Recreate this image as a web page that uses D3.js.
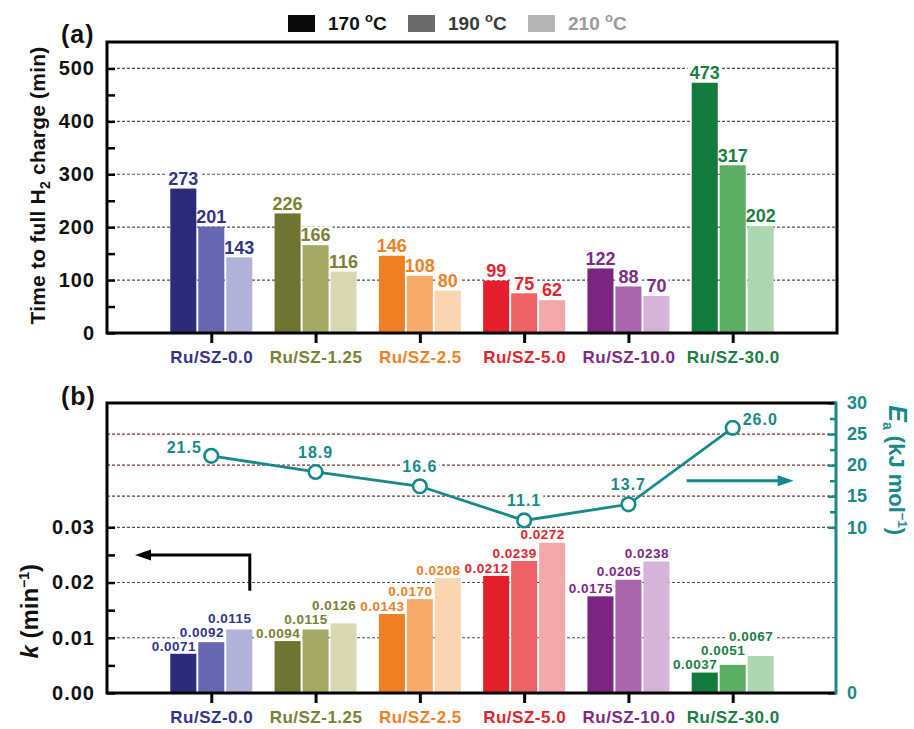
<!DOCTYPE html>
<html>
<head>
<meta charset="utf-8">
<script src="https://cdn.jsdelivr.net/npm/d3@7/dist/d3.min.js"></script>
<style>
  html, body { margin: 0; padding: 0; background: #fff; }
  svg { display: block; font-family: "Liberation Sans", Arial, Helvetica, sans-serif; font-weight: bold; }
</style>
</head>
<body>
<svg id="chart" width="914" height="729"></svg>
<script>
// ---- data ----
const categories = ["Ru/SZ-0.0", "Ru/SZ-1.25", "Ru/SZ-2.5", "Ru/SZ-5.0", "Ru/SZ-10.0", "Ru/SZ-30.0"];
const temperatures = ["170", "190", "210"];

// time to full H2 charge (min)
const chargeTime170 = [273, 226, 146, 99, 122, 473];
const chargeTime190 = [201, 166, 108, 75, 88, 317];
const chargeTime210 = [143, 116, 80, 62, 70, 202];

// rate constant k (min^-1)
const k170 = [0.0071, 0.0094, 0.0143, 0.0212, 0.0175, 0.0037];
const k190 = [0.0092, 0.0115, 0.0170, 0.0239, 0.0205, 0.0051];
const k210 = [0.0115, 0.0126, 0.0208, 0.0272, 0.0238, 0.0067];

// activation energy Ea (kJ mol^-1)
const activationEnergy = [21.5, 18.9, 16.6, 11.1, 13.7, 26.0];

// axis ticks
const timeTicks = [0, 100, 200, 300, 400, 500];
const timeMinorTicks = [50, 150, 250, 350, 450];
const kTicks = [0, 0.01, 0.02, 0.03];
const kMinorTicks = [0.005, 0.015, 0.025];
const eaTicks = [0, 10, 15, 20, 25, 30];
const eaMinorTicks = [12.5, 17.5, 22.5, 27.5];

// ---- styling ----
const shades = [
  ["#2c2a7a", "#6667b0", "#b1b2da"],
  ["#6f7431", "#a5a963", "#d8d9b3"],
  ["#f07e22", "#f7aa69", "#fbd4b0"],
  ["#e41e2a", "#ef6268", "#f5a8ab"],
  ["#7c2481", "#aa66ad", "#d6b3d8"],
  ["#127b3d", "#5cae64", "#add7b0"]
];
const labelColors = ["#34338a", "#7c8034", "#f08024", "#e4232e", "#7f2a85", "#1a8043"];
const legendFill = ["#0a0a0a", "#6a6a6a", "#b5b5b5"];
const legendText = ["#111111", "#3a3a3a", "#9a9a9a"];
const teal = "#168a8a";
const gridGray = "#505050";
const gridMaroon = "#7a3333";

const svg = d3.select("#chart");
svg.append("rect").attr("width", 914).attr("height", 729).attr("fill", "#fff");

const L = 107, R = 837;
const A = { top: 42, bottom: 333 };
const B = { top: 403, bottom: 693, right: 836 };

const x = d3.scalePoint().domain(categories).range([L, R]).padding(1);
const inner = d3.scaleBand().domain([0, 1, 2]).range([-41, 41]).paddingInner(0.07);

const yTime = d3.scaleLinear().domain([0, 550]).range([A.bottom, A.top]);
const yK = d3.scaleLinear().domain([0, 0.0525]).range([B.bottom, B.top]);
const yEa = d3.scaleLinear().domain([0, 10, 30]).range([B.bottom, yK(0.03), B.top]);

const timeSeries = [chargeTime170, chargeTime190, chargeTime210];
const kSeries = [k170, k190, k210];

const gGrid = svg.append("g");
const gBack = svg.append("g");
const gBars = svg.append("g");
const gAxes = svg.append("g");
const gLine = svg.append("g");
const gText = svg.append("g");

function hgrid(y, x1, x2, color) {
  gGrid.append("line").attr("x1", x1).attr("x2", x2).attr("y1", y).attr("y2", y)
    .attr("stroke", color).attr("stroke-width", 1.2).attr("stroke-dasharray", "3,2");
}

// label with a white knock-out box behind it
function label(xp, yp, text, opts) {
  const t = gText.append("text")
    .attr("x", xp).attr("y", yp).attr("dy", "0.35em")
    .attr("text-anchor", opts.anchor || "middle")
    .attr("font-size", opts.size).attr("letter-spacing", opts.spacing || 0)
    .attr("fill", opts.color).text(text);
  const bb = t.node().getBBox();
  gBack.append("rect").attr("x", bb.x - 2).attr("y", bb.y + 1)
    .attr("width", bb.width + 4).attr("height", bb.height - 2).attr("fill", "#fff");
  return t;
}

// ================= panel (a) =================
timeTicks.filter(d => d > 0).forEach(d => hgrid(yTime(d), L, R, gridGray));

const barsA = categories.flatMap((c, i) => timeSeries.map((s, j) => ({ c, i, j, v: s[i] })));
gBars.selectAll("rect.a").data(barsA).join("rect").attr("class", "a")
  .attr("x", d => x(d.c) + inner(d.j))
  .attr("width", inner.bandwidth())
  .attr("y", d => yTime(d.v))
  .attr("height", d => yTime(0) - yTime(d.v))
  .attr("fill", d => shades[d.i][d.j]);

barsA.forEach(d => {
  label(x(d.c) + inner(d.j) + inner.bandwidth() / 2, yTime(d.v) - 10, d3.format("d")(d.v),
    { size: 18, color: labelColors[d.i] });
});

// left axis (a)
const axA = gAxes.append("g").attr("transform", `translate(${L},0)`);
axA.call(d3.axisLeft(yTime).tickValues(timeTicks).tickSize(-8).tickSizeOuter(0).tickPadding(12));
axA.append("g").call(d3.axisLeft(yTime).tickValues(timeMinorTicks).tickSize(-8).tickSizeOuter(0).tickFormat(""));
axA.selectAll("path.domain").remove();
axA.selectAll("line").attr("stroke", "#000").attr("stroke-width", 2.5);
axA.selectAll("text").attr("font-size", 20).attr("letter-spacing", 1).attr("fill", "#111")
  .attr("font-family", null);

// category axis (a)
const bxA = gAxes.append("g").attr("transform", `translate(0,${A.bottom})`);
bxA.call(d3.axisBottom(x).tickSize(10).tickSizeOuter(0).tickPadding(8));
bxA.select("path.domain").remove();
bxA.selectAll("line").attr("stroke", "#000").attr("stroke-width", 3);
bxA.selectAll("text").attr("font-size", 17).attr("letter-spacing", 0.5)
  .attr("fill", (d, i) => labelColors[i]).attr("font-family", null);

gAxes.append("rect").attr("x", L).attr("y", A.top).attr("width", R - L).attr("height", A.bottom - A.top)
  .attr("fill", "none").attr("stroke", "#000").attr("stroke-width", 3);

// axis title (a)
const tA = gAxes.append("text").attr("transform", `translate(45,${(A.top + A.bottom) / 2 - 2}) rotate(-90)`)
  .attr("text-anchor", "middle").attr("font-size", 21).attr("letter-spacing", 0.2).attr("fill", "#111");
tA.append("tspan").text("Time to full H");
tA.append("tspan").attr("font-size", 14).attr("dy", 5).text("2");
tA.append("tspan").attr("dy", -5).text(" charge (min)");

gAxes.append("text").attr("x", 61).attr("y", 43).attr("font-size", 25).attr("letter-spacing", 1)
  .attr("fill", "#111").text("(a)");

// legend
const legend = gAxes.append("g");
temperatures.forEach((t, j) => {
  const lx = 288 + j * 120;
  legend.append("rect").attr("x", lx).attr("y", 15).attr("width", 27).attr("height", 17).attr("fill", legendFill[j]);
  const tx = legend.append("text").attr("x", lx + 40).attr("y", 30).attr("font-size", 19)
    .attr("fill", legendText[j]);
  tx.append("tspan").text(t + " ");
  tx.append("tspan").attr("font-size", 13).attr("dy", -8).text("o");
  tx.append("tspan").attr("dy", 8).text("C");
});

// ================= panel (b) =================
[0.01, 0.02, 0.03].forEach(d => hgrid(yK(d), L, B.right, gridGray));
[15, 20, 25].forEach(d => hgrid(yEa(d), L, B.right, gridMaroon));

const barsB = categories.flatMap((c, i) => kSeries.map((s, j) => ({ c, i, j, v: s[i] })));
gBars.selectAll("rect.b").data(barsB).join("rect").attr("class", "b")
  .attr("x", d => x(d.c) + inner(d.j))
  .attr("width", inner.bandwidth())
  .attr("y", d => yK(d.v))
  .attr("height", d => yK(0) - yK(d.v))
  .attr("fill", d => shades[d.i][d.j]);

// k labels: stacked so neighbouring labels within a group never collide
categories.forEach((c, i) => {
  let prev = Infinity;
  kSeries.forEach((s, j) => {
    const yl = Math.min(yK(s[i]) - 8, prev - 14);
    prev = yl;
    label(x(c) + inner(j) + inner.bandwidth() / 2 - 9.5, yl, d3.format(".4f")(s[i]),
      { size: 13.5, spacing: 0.5, color: labelColors[i] });
  });
});

// left axis (b)
const axB = gAxes.append("g").attr("transform", `translate(${L},0)`);
axB.call(d3.axisLeft(yK).tickValues(kTicks).tickSize(-8).tickSizeOuter(0).tickPadding(12).tickFormat(d3.format(".2f")));
axB.append("g").call(d3.axisLeft(yK).tickValues(kMinorTicks).tickSize(-8).tickSizeOuter(0).tickFormat(""));
axB.selectAll("path.domain").remove();
axB.selectAll("line").attr("stroke", "#000").attr("stroke-width", 2.5);
axB.selectAll("text").attr("font-size", 20).attr("letter-spacing", 1).attr("fill", "#111").attr("font-family", null);

// right axis (b)
const axE = gAxes.append("g").attr("transform", `translate(${B.right},0)`);
axE.call(d3.axisRight(yEa).tickValues(eaTicks).tickSize(-8).tickSizeOuter(0).tickPadding(11));
axE.append("g").call(d3.axisRight(yEa).tickValues(eaMinorTicks).tickSize(-6).tickSizeOuter(0).tickFormat(""));
axE.selectAll("path.domain").remove();
axE.selectAll("line").attr("stroke", teal).attr("stroke-width", 2.5);
axE.selectAll("text").attr("font-size", 18).attr("fill", teal).attr("font-family", null);

// category axis (b)
const bxB = gAxes.append("g").attr("transform", `translate(0,${B.bottom})`);
bxB.call(d3.axisBottom(x).tickSize(10).tickSizeOuter(0).tickPadding(8));
bxB.select("path.domain").remove();
bxB.selectAll("line").attr("stroke", "#000").attr("stroke-width", 3);
bxB.selectAll("text").attr("font-size", 17).attr("letter-spacing", 0.5)
  .attr("fill", (d, i) => labelColors[i]).attr("font-family", null);

// frame (b)
gAxes.append("path")
  .attr("d", `M${B.right},${B.top}H${L}V${B.bottom}H${B.right}`)
  .attr("fill", "none").attr("stroke", "#000").attr("stroke-width", 3);
gAxes.append("line").attr("x1", B.right).attr("x2", B.right).attr("y1", B.top - 1.5).attr("y2", B.bottom + 1.5)
  .attr("stroke", teal).attr("stroke-width", 3);

// axis titles (b)
const tK = gAxes.append("text").attr("transform", `translate(38,${yK(0.0148)}) rotate(-90)`)
  .attr("text-anchor", "middle").attr("font-size", 24).attr("fill", "#111");
tK.append("tspan").attr("font-style", "italic").text("k");
tK.append("tspan").text(" (min");
tK.append("tspan").attr("font-size", 14).attr("dy", -9).text("\u22121");
tK.append("tspan").attr("dy", 9).text(")");

const tE = gAxes.append("text").attr("transform", `translate(889,${yEa(19.2)}) rotate(90)`)
  .attr("text-anchor", "middle").attr("font-size", 22).attr("fill", teal);
tE.append("tspan").attr("font-style", "italic").attr("font-size", 25).text("E");
tE.append("tspan").attr("font-size", 14).attr("dy", 6).text("a");
tE.append("tspan").attr("dy", -6).text(" (kJ mol");
tE.append("tspan").attr("font-size", 13).attr("dy", -9).text("\u22121");
tE.append("tspan").attr("dy", 9).text(")");

gAxes.append("text").attr("x", 61).attr("y", 405).attr("font-size", 25).attr("letter-spacing", 1)
  .attr("fill", "#111").text("(b)");

// Ea line with open markers
const eaPts = categories.map((c, i) => ({ c, i, v: activationEnergy[i] }));
gLine.append("path").datum(eaPts)
  .attr("d", d3.line().x(d => x(d.c)).y(d => yEa(d.v)))
  .attr("fill", "none").attr("stroke", teal).attr("stroke-width", 2.8);
gLine.selectAll("circle").data(eaPts).join("circle")
  .attr("cx", d => x(d.c)).attr("cy", d => yEa(d.v)).attr("r", 6.8)
  .attr("fill", "#fff").attr("stroke", teal).attr("stroke-width", 2.6);

eaPts.forEach((d, i) => {
  const px = x(d.c), py = yEa(d.v);
  const last = eaPts.length - 1;
  const opts = { size: 16, spacing: 1, color: teal };
  if (i === 0) label(px - 9.5, py - 8, d3.format(".1f")(d.v), { ...opts, anchor: "end" });
  else if (i === last) label(px + 10, py - 8, d3.format(".1f")(d.v), { ...opts, anchor: "start" });
  else label(px, py - 20, d3.format(".1f")(d.v), opts);
});

// axis-direction arrows
function arrow(points, color) {
  const [tx, ty] = points[points.length - 1];
  const [sx, sy] = points[points.length - 2];
  const dir = Math.sign(tx - sx);
  const body = points.slice(0, -1).concat([[tx - dir * 12, ty]]);
  gLine.append("path").attr("d", d3.line()(body)).attr("fill", "none")
    .attr("stroke", color).attr("stroke-width", 3);
  gLine.append("path")
    .attr("d", `M${tx},${ty}L${tx - dir * 16},${ty - 5.5}L${tx - dir * 16},${ty + 5.5}Z`)
    .attr("fill", color);
}
const x0 = x(categories[0]);
arrow([[x0 + 38.5, yK(0.0185)], [x0 + 38.5, yK(0.025)], [L + 28, yK(0.025)]], "#000");
const x5 = x(categories[5]);
arrow([[x5 - 46, yEa(17.5)], [x5 + 61, yEa(17.5)]], teal);
</script>
</body>
</html>
